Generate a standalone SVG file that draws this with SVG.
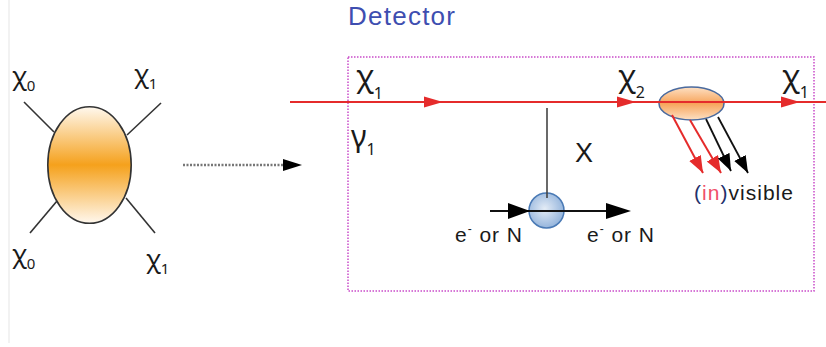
<svg xmlns="http://www.w3.org/2000/svg" width="826" height="347" viewBox="0 0 826 347">
<style>
.chi{font-family:"Noto Sans","DejaVu Sans",sans-serif;fill:#1a1a1a}
.lbl{font-family:"Liberation Sans",Arial,sans-serif;fill:#1a1a1a}
.leg{stroke:#333;stroke-width:1.6;fill:none}
.red{stroke:#e52b2b;stroke-width:2;fill:none}
.blk{stroke:#111;stroke-width:1.8;fill:none}
</style>
<defs>
<linearGradient id="gOr" x1="0" y1="0" x2="0" y2="1">
<stop offset="0" stop-color="#fff8ee"/>
<stop offset="0.5" stop-color="#f5a11c"/>
<stop offset="1" stop-color="#fff8ee"/>
</linearGradient>
<linearGradient id="gOr2" x1="0" y1="0" x2="0" y2="1">
<stop offset="0" stop-color="#fde0c4"/>
<stop offset="0.5" stop-color="#f7a45a"/>
<stop offset="1" stop-color="#fde0c4"/>
</linearGradient>
<radialGradient id="gBl" cx="0.45" cy="0.45" r="0.6">
<stop offset="0" stop-color="#e4ecf6"/>
<stop offset="1" stop-color="#8eb0da"/>
</radialGradient>
<marker id="ahR" markerUnits="userSpaceOnUse" markerWidth="18" markerHeight="14" refX="17" refY="6.5" orient="auto">
<path d="M0,0 L17,6.5 L0,13 z" fill="#e52b2b"/>
</marker>
<marker id="ahK" markerUnits="userSpaceOnUse" markerWidth="18" markerHeight="14" refX="17" refY="6.5" orient="auto">
<path d="M0,0 L17,6.5 L0,13 z" fill="#000"/>
</marker>
</defs>
<rect width="826" height="347" fill="#fff"/>
<line x1="9" y1="0" x2="9" y2="343" stroke="#eeeeee" stroke-width="1.5"/>

<g id="blob">
<line class="leg" x1="24" y1="102" x2="54" y2="132"/>
<line class="leg" x1="161" y1="103" x2="127" y2="135"/>
<line class="leg" x1="30" y1="233" x2="57" y2="201"/>
<line class="leg" x1="155" y1="233" x2="126" y2="198"/>
<ellipse cx="89.5" cy="165" rx="41.7" ry="58.3" fill="url(#gOr)" stroke="#333" stroke-width="1.6"/>
</g>
<g id="lbl-chi0-top"><text class="chi" x="12" y="85" font-size="25">χ<tspan font-size="15" y="91">0</tspan></text></g>
<g id="lbl-chi1-top"><text class="chi" x="134" y="83" font-size="25">χ<tspan font-size="15" y="89">1</tspan></text></g>
<g id="lbl-chi0-bot"><text class="chi" x="12" y="263" font-size="25">χ<tspan font-size="15" y="269">0</tspan></text></g>
<g id="lbl-chi1-bot"><text class="chi" x="146" y="268" font-size="25">χ<tspan font-size="15" y="274">1</tspan></text></g>

<g id="detector">
<text class="lbl" x="348" y="25" font-size="26" style="fill:#3e4eb0" textLength="107" lengthAdjust="spacing">Detector</text>
<rect x="348" y="57" width="466" height="234" fill="none" stroke="#c94cc9" stroke-width="1.5" stroke-dasharray="1.5 1.5"/>
</g>

<g id="target">
<circle cx="546.5" cy="210.5" r="17.5" fill="url(#gBl)" stroke="#4a7ab5" stroke-width="1.5"/>
</g>
<g id="decay">
<ellipse cx="691.5" cy="103.5" rx="32.5" ry="16.5" fill="url(#gOr2)" stroke="#4a6a9e" stroke-width="1.5"/>
</g>

<g id="connectors">
<line x1="183" y1="165" x2="284" y2="165" stroke="#777" stroke-width="2.5" stroke-dasharray="2 1.5"/>
<polygon points="283,159 302,165 283,171" fill="#000"/>
<line class="red" x1="290" y1="102" x2="826" y2="102"/>
<polygon points="424,96.5 443,102 424,107.5" fill="#e52b2b"/>
<polygon points="617,96.5 636,102 617,107.5" fill="#e52b2b"/>
<polygon points="781,96.5 800,102 781,107.5" fill="#e52b2b"/>
<line x1="547" y1="108" x2="547" y2="198" stroke="#444" stroke-width="1.6"/>
<line class="blk" x1="490" y1="211" x2="612" y2="211"/>
<polygon points="508,203 530,211 508,219" fill="#000"/>
<polygon points="606,203 631,211 606,219" fill="#000"/>
<line class="red" stroke-width="1.6" x1="672" y1="115" x2="703" y2="173" marker-end="url(#ahR)"/>
<line class="red" stroke-width="1.6" x1="690" y1="120" x2="721" y2="173" marker-end="url(#ahR)"/>
<line class="blk" stroke-width="1.6" x1="706" y1="119" x2="731" y2="171" marker-end="url(#ahK)"/>
<line class="blk" stroke-width="1.6" x1="718" y1="117" x2="748" y2="173" marker-end="url(#ahK)"/>
</g>

<g id="labels">
<text class="chi" x="356" y="87" font-size="30">χ<tspan font-size="16" y="99">1</tspan></text>
<text class="chi" x="351" y="147" font-size="30">γ<tspan font-size="16" y="155">1</tspan></text>
<text class="chi" x="618" y="87" font-size="30">χ<tspan font-size="16" y="98">2</tspan></text>
<text class="chi" x="782" y="87" font-size="30">χ<tspan font-size="16" y="98">1</tspan></text>
<text class="lbl" x="575" y="162" font-size="27">X</text>
<text class="lbl" x="455" y="242" font-size="21" textLength="67" lengthAdjust="spacing">e<tspan font-size="12" dy="-9">-</tspan><tspan dy="9"> or N</tspan></text>
<text class="lbl" x="587" y="242" font-size="21" textLength="67" lengthAdjust="spacing">e<tspan font-size="12" dy="-9">-</tspan><tspan dy="9"> or N</tspan></text>
<text class="lbl" x="694" y="200" font-size="21" textLength="99" lengthAdjust="spacing"><tspan fill="#24306a">(</tspan><tspan fill="#f0506a">in</tspan><tspan fill="#24306a">)</tspan>visible</text>
</g>
</svg>
